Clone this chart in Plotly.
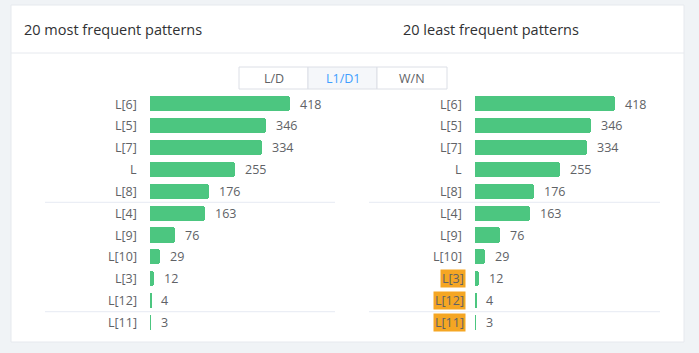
import plotly.graph_objects as go

W, H = 699, 353

title_most = "20 most frequent patterns"
title_least = "20 least frequent patterns"
buttons = ["L/D", "L1/D1", "W/N"]
active_button = "L1/D1"

labels_most = ["L[6]", "L[5]", "L[7]", "L", "L[8]", "L[4]", "L[9]", "L[10]", "L[3]", "L[12]", "L[11]"]
values_most = [418, 346, 334, 255, 176, 163, 76, 29, 12, 4, 3]

labels_least = ["L[6]", "L[5]", "L[7]", "L", "L[8]", "L[4]", "L[9]", "L[10]", "L[3]", "L[12]", "L[11]"]
values_least = [418, 346, 334, 255, 176, 163, 76, 29, 12, 4, 3]
highlight_least = ["L[3]", "L[12]", "L[11]"]

separators_after = ["L[8]", "L[12]"]

FONT = "Open Sans"
GREEN = "#4cc680"
ORANGE = "#f5a623"
TXT = "#606266"


def px(x):
    return x / W


def py(y):
    return 1 - y / H


scale = 140 / 418.0
left_start, left_end = 150, 335
right_start, right_end = 475, 660
ytop, ybot = 93.1, 333.4

fig = go.Figure()

panels = [
    ("x", "y", labels_most, values_most, [], left_start, left_end, 45),
    ("x2", "y2", labels_least, values_least, highlight_least, right_start, right_end, 369),
]

shapes = []
annotations = []

# card
shapes.append(dict(type="rect", xref="paper", yref="paper", x0=px(11), x1=px(684), y0=py(342), y1=py(5),
                   fillcolor="white", line=dict(color="#e6e9ee", width=1), layer="below"))
shapes.append(dict(type="line", xref="paper", yref="paper", x0=px(11), x1=px(684), y0=py(53), y1=py(53),
                   line=dict(color="#e6e9ee", width=1), layer="below"))

annotations.append(dict(text=title_most, x=px(22), y=py(30), xref="paper", yref="paper", xanchor="left",
                        yanchor="middle", showarrow=False, font=dict(family=FONT, size=14.5, color="#303133")))
annotations.append(dict(text=title_least, x=px(401), y=py(30), xref="paper", yref="paper", xanchor="left",
                        yanchor="middle", showarrow=False, font=dict(family=FONT, size=14.5, color="#303133")))

# button group
bx = [239, 308, 377, 447]
for i, b in enumerate(buttons):
    active = b == active_button
    shapes.append(dict(type="rect", xref="paper", yref="paper", x0=px(bx[i]), x1=px(bx[i + 1]), y0=py(89), y1=py(67),
                       fillcolor="#f5f7fa" if active else "white", line=dict(color="#dcdfe6", width=1), layer="below"))
    annotations.append(dict(text=b, x=px((bx[i] + bx[i + 1]) / 2), y=py(78), xref="paper", yref="paper",
                            xanchor="center", yanchor="middle", showarrow=False,
                            font=dict(family=FONT, size=12.5, color="#409eff" if active else TXT)))

for xa, ya, labels, values, hl, x0, x1, sep_x0 in panels:
    fig.add_trace(go.Bar(
        x=values, y=labels, orientation="h", xaxis=xa, yaxis=ya,
        marker=dict(color=GREEN, cornerradius=3, line=dict(width=0)),
        width=0.69, hoverinfo="x+y", showlegend=False,
    ))
    for lab, v in zip(labels, values):
        annotations.append(dict(text=str(v), x=v, y=lab, xref=xa, yref=ya, xanchor="left", yanchor="middle",
                                xshift=8, showarrow=False, font=dict(family=FONT, size=12.5, color=TXT)))
        is_hl = lab in hl
        ann = dict(text=lab, x=px(x0 - 11 + (2 if is_hl else 0)), y=lab, xref="paper", yref=ya,
                   xanchor="right", yanchor="middle", showarrow=False,
                   font=dict(family=FONT, size=12.5, color=TXT))
        if is_hl:
            ann.update(bgcolor=ORANGE, borderpad=1, height=15)
        annotations.append(ann)
    for s in separators_after:
        idx = labels.index(s)
        shapes.append(dict(type="line", xref="paper", yref=ya, x0=px(sep_x0), x1=px(x1),
                           y0=idx + 0.5, y1=idx + 0.5, line=dict(color="#ebeef5", width=1.2), layer="below"))

axis_common = dict(showgrid=False, zeroline=False, showticklabels=False, ticks="", showline=False, fixedrange=True)

fig.update_layout(
    width=W, height=H, margin=dict(l=0, r=0, t=0, b=0),
    paper_bgcolor="#f0f3f6", plot_bgcolor="rgba(0,0,0,0)",
    font=dict(family=FONT, color=TXT),
    bargap=0,
    xaxis=dict(domain=[px(left_start), px(left_end)], range=[0, (left_end - left_start) / scale], **axis_common),
    xaxis2=dict(domain=[px(right_start), px(right_end)], range=[0, (right_end - right_start) / scale], **axis_common),
    yaxis=dict(domain=[py(ybot), py(ytop)], range=[len(labels_most) - 0.5, -0.5], type="category",
               anchor="x", **axis_common),
    yaxis2=dict(domain=[py(ybot), py(ytop)], range=[len(labels_least) - 0.5, -0.5], type="category",
                anchor="x2", **axis_common),
    shapes=shapes, annotations=annotations,
)

fig.write_html("out.html", config={"displayModeBar": False})
